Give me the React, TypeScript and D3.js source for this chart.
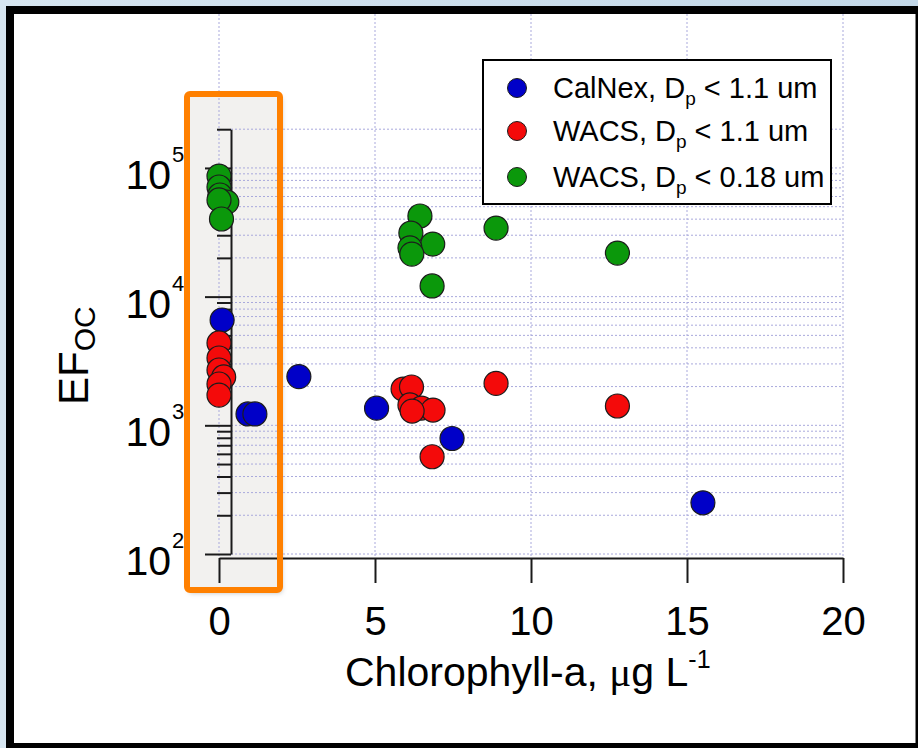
import { useEffect, useRef } from "react";
import * as d3 from "d3";

const W = 918, H = 748;

// CalNex, Dp < 1.1 um
const calnexX = [0.1, 0.93, 1.15, 2.56, 5.05, 7.47, 15.51];
const calnexY = [6580, 1225, 1225, 2390, 1360, 790, 250];
// WACS, Dp < 1.1 um
const wacsX = [0.0, 0.0, 0.0, 0.15, 0.0, 0.0, 5.9, 6.17, 6.12, 6.49, 6.86, 6.19, 6.83, 8.88, 12.77];
const wacsY = [4365, 3335, 2690, 2375, 2094, 1718, 1914, 1985, 1439, 1362, 1314, 1291, 570, 2119, 1413];
// WACS, Dp < 0.18 um
const ufX = [0.0, 0.0, 0.03, 0.25, 0.0, 0.08, 6.44, 6.15, 6.85, 6.12, 6.18, 6.83, 8.88, 12.77];
const ufY = [86500, 71100, 61600, 54300, 56400, 40100, 42300, 31200, 25600, 23900, 21400, 12100, 34100, 21800];

const seriesNames = ["CalNex", "WACS", "WACS"];
const seriesCuts = ["1.1", "1.1", "0.18"];
const seriesColors = ["#0000c8", "#f40a0a", "#0b980b"];

const xTicks = [0, 5, 10, 15, 20];
const yDecades = [2, 3, 4, 5];

const FONT = "'Liberation Sans', Arial, Helvetica, sans-serif";

export default function App() {
  const svgRef = useRef<SVGSVGElement>(null);

  useEffect(() => {
    const svg = d3.select(svgRef.current);
    svg.selectAll("*").remove();

    const x = d3.scaleLinear().domain([0, 20]).range([219, 843]);
    const y = d3.scaleLog().domain([100, 2e5]).range([554, 129.2]);
    const yAxisX = 231;

    const defs = svg.append("defs");
    const grad = defs.append("linearGradient").attr("id", "bg").attr("x1", 0).attr("y1", 0).attr("x2", 1).attr("y2", 0);
    grad.append("stop").attr("offset", "0%").attr("stop-color", "#d6e5f0");
    grad.append("stop").attr("offset", "100%").attr("stop-color", "#c3d8e8");
    const shadow = defs.append("filter").attr("id", "shadow").attr("x", "-20%").attr("y", "-10%").attr("width", "140%").attr("height", "120%");
    shadow.append("feDropShadow").attr("dx", 2).attr("dy", 3).attr("stdDeviation", 2.5).attr("flood-color", "#000").attr("flood-opacity", 0.25);

    // frame
    svg.append("rect").attr("width", W).attr("height", H).attr("fill", "url(#bg)");
    svg.append("rect").attr("x", 6).attr("y", 6).attr("width", W - 6).attr("height", H - 6).attr("fill", "#000");
    svg.append("rect").attr("x", 14).attr("y", 14).attr("width", 915.5 - 14).attr("height", 743 - 14).attr("fill", "#fff");

    // highlight box background
    svg.append("rect").attr("x", 187).attr("y", 94).attr("width", 93).attr("height", 496).attr("rx", 3)
      .attr("fill", "#f2f1ef").attr("filter", "url(#shadow)");

    // grid
    const grid = svg.append("g").attr("stroke", "#a9a9dc").attr("stroke-width", 1).attr("stroke-dasharray", "2,2");
    grid.selectAll(".vg").data(xTicks).enter().append("line")
      .attr("x1", d => x(d)).attr("x2", d => x(d)).attr("y1", 14).attr("y2", 558);
    grid.selectAll(".hg").data(y.ticks()).enter().append("line")
      .attr("x1", yAxisX).attr("x2", 843).attr("y1", d => y(d)).attr("y2", d => y(d));

    // y axis
    const isMajor = (v: number) => Math.abs(Math.log10(v) - Math.round(Math.log10(v))) < 1e-6;
    const gy = svg.append("g").attr("transform", `translate(${yAxisX},0)`)
      .call(d3.axisLeft(y).tickValues(y.ticks()).tickFormat(() => "").tickSizeOuter(0));
    gy.select(".domain").attr("stroke", "#1a1a1a").attr("stroke-width", 2);
    gy.selectAll<SVGLineElement, number>(".tick line").attr("x2", d => isMajor(d) ? -26 : -14)
      .attr("stroke", "#1a1a1a").attr("stroke-width", 2);

    yDecades.forEach(d => {
      const ty = y(Math.pow(10, d));
      svg.append("text").attr("x", 171).attr("y", ty + 21).attr("text-anchor", "end")
        .style("font-family", FONT).style("font-size", "41px").text("10");
      svg.append("text").attr("x", 172).attr("y", ty - 6)
        .style("font-family", FONT).style("font-size", "22px").text(String(d));
    });

    // x axis
    const gx = svg.append("g").attr("transform", "translate(0,558)")
      .call(d3.axisBottom(x).tickValues(xTicks).tickSize(25).tickPadding(24).tickSizeOuter(0));
    gx.select(".domain").attr("stroke", "#1a1a1a").attr("stroke-width", 2);
    gx.selectAll(".tick line").attr("stroke", "#1a1a1a").attr("stroke-width", 2);
    gx.selectAll(".tick text").attr("fill", "#000").style("font-family", FONT).style("font-size", "40px");

    // axis titles
    const xt = svg.append("text").attr("x", 345).attr("y", 686).style("font-family", FONT).style("font-size", "41px");
    xt.append("tspan").text("Chlorophyll-a, ");
    xt.append("tspan").style("font-family", "'Liberation Serif', serif").text("\u03bc");
    xt.append("tspan").text("g L");
    xt.append("tspan").attr("dy", -18).style("font-size", "25px").text("-1");

    const yt = svg.append("text").attr("transform", "translate(88,405) rotate(-90)")
      .style("font-family", FONT).style("font-size", "42px");
    yt.append("tspan").text("EF");
    yt.append("tspan").attr("dy", 7).style("font-size", "30px").text("OC");

    // points
    const series = [
      { xs: calnexX, ys: calnexY },
      { xs: wacsX, ys: wacsY },
      { xs: ufX, ys: ufY },
    ];
    series.forEach((s, i) => {
      svg.append("g").selectAll("circle").data(s.xs).enter().append("circle")
        .attr("cx", d => x(d)).attr("cy", (_, j) => y(s.ys[j])).attr("r", 12)
        .attr("fill", seriesColors[i]).attr("stroke", "#1c1c1c").attr("stroke-width", 1.2);
    });

    // highlight box outline
    svg.append("rect").attr("x", 187).attr("y", 94).attr("width", 93).attr("height", 496).attr("rx", 3)
      .attr("fill", "none").attr("stroke", "#ff8000").attr("stroke-width", 6);

    // legend
    const lg = svg.append("g");
    lg.append("rect").attr("x", 483).attr("y", 60).attr("width", 348).attr("height", 144)
      .attr("fill", "#fff").attr("stroke", "#000").attr("stroke-width", 2);
    const rows = [88, 131, 177];
    seriesNames.forEach((name, i) => {
      lg.append("circle").attr("cx", 517).attr("cy", rows[i]).attr("r", 9.5)
        .attr("fill", seriesColors[i]).attr("stroke", "#1c1c1c").attr("stroke-width", 1);
      const t = lg.append("text").attr("x", 553).attr("y", rows[i] + 10)
        .style("font-family", FONT).style("font-size", "29px").style("white-space", "pre");
      t.append("tspan").text(`${name}, D`);
      t.append("tspan").attr("dy", 7).style("font-size", "19px").text("p");
      t.append("tspan").attr("dy", -7).text(` < ${seriesCuts[i]} um`);
    });
  }, []);

  return <svg ref={svgRef} width={W} height={H} style={{ position: "absolute", left: 0, top: 0 }} />;
}
